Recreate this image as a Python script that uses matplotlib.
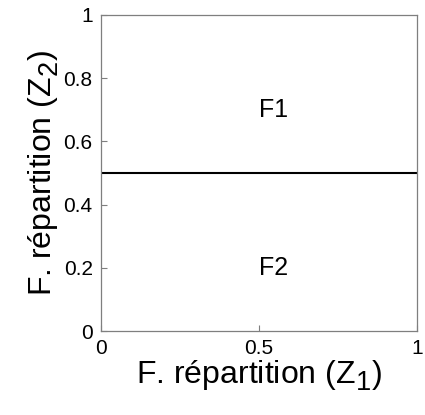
import matplotlib
matplotlib.use("Agg")
import matplotlib.pyplot as plt
import matplotlib._mathtext as mt

# MATLAB-style subscripts: bigger and lower than mathtext defaults
mt.SHRINK_FACTOR = 0.85
mt.FontConstantsBase.sub1 = 0.45
mt.FontConstantsBase.sub2 = 0.6

# data
split_x = [0, 1]
split_y = [0.5, 0.5]
region_labels = ["F1", "F2"]
region_x = [0.5, 0.5]
region_y = [0.7, 0.2]
xticks = [0, 0.5, 1]
yticks = [0, 0.2, 0.4, 0.6, 0.8, 1]

plt.rcParams["font.family"] = ["Liberation Sans", "DejaVu Sans"]
plt.rcParams["mathtext.default"] = "regular"

fig = plt.figure(figsize=(4.25, 4.15), dpi=100)
ax = fig.add_axes([0.2376, 0.2024, 0.7435, 0.7615])

ax.plot(split_x, split_y, color="black", linewidth=1.5)
# text anchored on its left edge, like MATLAB's text()
for lab, x, y in zip(region_labels, region_x, region_y):
    ax.text(x, y, lab, ha="left", va="center", fontsize=18)

ax.set_xlim(0, 1)
ax.set_ylim(0, 1)
ax.set_xticks(xticks)
ax.set_yticks(yticks)
ax.set_xticklabels(["0", "0.5", "1"])
ax.set_yticklabels(["0", "0.2", "0.4", "0.6", "0.8", "1"])
ax.tick_params(direction="in", length=4, width=0.8, colors="#7f7f7f",
               labelcolor="black", labelsize=15, pad=6)
for s in ax.spines.values():
    s.set_color("#7f7f7f")
    s.set_linewidth(0.9)

ax.set_xlabel("F. répartition (Z$_1$)", fontsize=23, labelpad=0)
ax.set_ylabel("F. répartition (Z$_2$)", fontsize=23, labelpad=2)

fig.savefig("out.png", dpi=100)
